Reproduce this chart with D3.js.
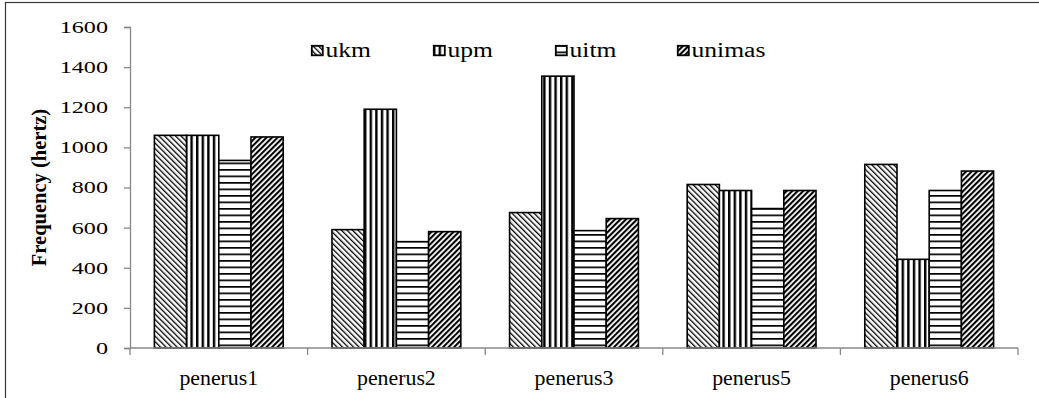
<!DOCTYPE html>
<html>
<head>
<meta charset="utf-8">
<script src="https://cdn.jsdelivr.net/npm/d3@7"></script>
<style>
  html, body { margin: 0; padding: 0; background: #fff; }
  svg { display: block; }
</style>
</head>
<body>
<svg id="chart" width="1039" height="398"></svg>
<script>
// Data
const categories = ["penerus1", "penerus2", "penerus3", "penerus5", "penerus6"];
const seriesNames = ["ukm", "upm", "uitm", "unimas"];
const ukm    = [1060, 590, 675, 815, 915];
const upm    = [1060, 1190, 1355, 785, 442];
const uitm   = [935, 530, 585, 695, 785];
const unimas = [1052, 580, 645, 785, 882];
const yTicks = [0, 200, 400, 600, 800, 1000, 1200, 1400, 1600];

const seriesValues = { ukm, upm, uitm, unimas };

const FONT = "Liberation Serif";
const svg = d3.select("#chart");
const plot = { left: 130, right: 1018, top: 27, bottom: 348 };

// Hatch patterns
const defs = svg.append("defs");
function stripePattern(id, period, thick, angle) {
  const p = defs.append("pattern")
    .attr("id", id)
    .attr("patternUnits", "userSpaceOnUse")
    .attr("width", period)
    .attr("height", period)
    .attr("patternTransform", `rotate(${angle})`);
  p.append("rect").attr("width", period).attr("height", period).attr("fill", "#fff");
  p.append("rect").attr("x", 0).attr("y", 0)
    .attr("width", thick).attr("height", period).attr("fill", "#000");
}
stripePattern("pat-ukm", 3.9, 1.3, -45);
stripePattern("pat-upm", 5.6, 2.4, 0);
stripePattern("pat-uitm", 6.5, 1.7, 90);
stripePattern("pat-unimas", 3.9, 2.1, 45);

// Outer chart frame
svg.append("rect")
  .attr("x", 5.5).attr("y", 2.5)
  .attr("width", 1200).attr("height", 600)
  .attr("fill", "none").attr("stroke", "#3a3a3a").attr("stroke-width", 1.2);

// Scales
const x = d3.scaleBand().domain(categories).range([plot.left, plot.right]).paddingInner(0).paddingOuter(0);
const xs = d3.scaleBand().domain(seriesNames).range([0, x.bandwidth()]).paddingInner(0).paddingOuter(0.757);
const y = d3.scaleLinear().domain([0, 1600]).range([plot.bottom, plot.top]);

// Bars
const rows = [];
categories.forEach((c, i) => {
  seriesNames.forEach(s => rows.push({ cat: c, series: s, value: seriesValues[s][i] }));
});
svg.append("g").selectAll("rect").data(rows).join("rect")
  .attr("x", d => x(d.cat) + xs(d.series))
  .attr("y", d => y(d.value))
  .attr("width", xs.bandwidth())
  .attr("height", d => y(0) - y(d.value))
  .attr("fill", d => `url(#pat-${d.series})`)
  .attr("stroke", "#000")
  .attr("stroke-width", 1.6);

// Y axis (line and ticks); labels drawn separately with a wide face
const yAxis = svg.append("g")
  .attr("transform", `translate(${plot.left},0)`)
  .call(d3.axisLeft(y).tickValues(yTicks).tickSize(6).tickFormat(""));
yAxis.select(".domain").attr("stroke", "#888").attr("stroke-width", 1.3);
yAxis.selectAll(".tick line").attr("stroke", "#888").attr("stroke-width", 1.3);
svg.append("g").selectAll("text").data(yTicks).join("text")
  .attr("transform", d => `translate(108,${y(d)}) scale(1.38,1)`)
  .attr("dy", "0.34em")
  .attr("text-anchor", "end")
  .attr("font-family", FONT)
  .attr("font-size", 17.5)
  .attr("fill", "#000")
  .text(d3.format("d"));

// X axis with ticks at category boundaries
const xAxisG = svg.append("g").attr("transform", `translate(0,${plot.bottom})`);
xAxisG.append("line")
  .attr("x1", plot.left).attr("x2", plot.right)
  .attr("stroke", "#888").attr("stroke-width", 1.3);
const boundaries = categories.map(c => x(c)).concat([x(categories[categories.length - 1]) + x.bandwidth()]);
xAxisG.selectAll("line.tick").data(boundaries).join("line")
  .attr("class", "tick")
  .attr("x1", d => d).attr("x2", d => d)
  .attr("y1", 0).attr("y2", 7)
  .attr("stroke", "#888").attr("stroke-width", 1.3);
xAxisG.selectAll("text").data(categories).join("text")
  .attr("transform", d => `translate(${x(d) + x.bandwidth() / 2},37) scale(1.04,1)`)
  .attr("text-anchor", "middle")
  .attr("font-family", FONT)
  .attr("font-size", 21)
  .attr("fill", "#000")
  .text(d => d);

// Y axis title
svg.append("text")
  .attr("transform", `translate(45.5,${(plot.top + plot.bottom) / 2}) rotate(-90)`)
  .attr("text-anchor", "middle")
  .attr("font-family", FONT)
  .attr("font-size", 20.5)
  .attr("font-weight", "bold")
  .attr("fill", "#000")
  .text("Frequency (hertz)");

// Legend
const legendX = [311, 433, 555, 677];
const legend = svg.append("g").selectAll("g").data(seriesNames).join("g")
  .attr("transform", (d, i) => `translate(${legendX[i]},45)`);
legend.append("rect")
  .attr("x", 0.8).attr("y", 0.8)
  .attr("width", 11).attr("height", 9.5)
  .attr("fill", d => `url(#pat-${d})`)
  .attr("stroke", "#000").attr("stroke-width", 1.8);
legend.append("text")
  .attr("transform", "translate(14.5,11.7) scale(1.28,1)")
  .attr("font-family", FONT)
  .attr("font-size", 20)
  .attr("fill", "#000")
  .text(d => d);
</script>
</body>
</html>
